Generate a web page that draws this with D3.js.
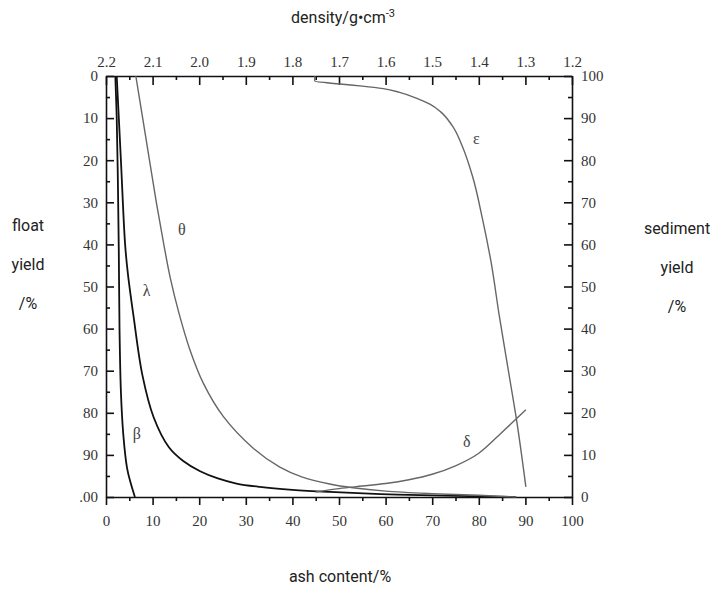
<!DOCTYPE html>
<html>
<head>
<meta charset="utf-8">
<script src="https://cdn.jsdelivr.net/npm/d3@7"></script>
<style>
  html, body { margin: 0; padding: 0; background: #fff; }
  svg { display: block; }
  .tick text { font-family: "Liberation Serif", "DejaVu Serif", serif; font-size: 15px; fill: #333; }
  .title { font-family: Roboto, "Noto Sans", sans-serif; font-size: 16px; fill: #222; }
  .curve-label { font-family: "Liberation Serif", "DejaVu Serif", serif; font-size: 16px; fill: #444; }
</style>
</head>
<body>
<svg id="chart" width="721" height="592"></svg>
<script>
// Ash content (x, %) vs float yield (y, %) for each washability curve
const betaCurve = [[2.0,0],[2.3,10],[2.55,25],[2.75,42],[2.9,60],[3.2,75],[3.7,85],[4.5,93],[5.3,96.7],[6.2,100]];
const lambdaCurve = [[2.3,0],[3.2,20],[4.1,40],[4.7,47],[5.9,57],[7.8,71],[10.2,81],[13.5,88.2],[16.5,91.4],[20.2,93.9],[24,95.6],[28,96.8],[33,97.6],[40,98.3],[48,98.8],[59,99.3],[70,99.6],[88,100]];
const thetaCurve = [[6.4,0],[8.6,15],[10.8,30],[12.4,40],[13.8,48],[15.7,56.5],[18,65],[20.9,73],[25.2,80.9],[31.6,88.4],[37.3,92.9],[42,95.2],[48,96.9],[53,97.8],[60,98.6],[70,99.2],[80,99.6],[88,100]];
const epsilonCurve = [[44.8,0],[44.8,1.2],[50.2,1.9],[55,2.4],[59.5,3.0],[63,3.9],[66.7,5.3],[69.5,6.7],[71.7,8.4],[74.3,11.8],[76.5,16.8],[78.7,24],[80.8,34],[82.6,44],[84.4,57],[86.5,71],[88.1,81.7],[90.1,97.6]];
const deltaCurve = [[45,98.8],[50,98.0],[55,97.4],[60,96.8],[65,95.9],[70,94.6],[75,92.6],[80,89.6],[85,84.6],[90.1,79.3]];

// Curve names and where each name sits (ash %, float yield %)
const curveNames = ["β", "λ", "θ", "ε", "δ"];
const labelSpots = [[6.6,85.3],[8.7,51.5],[16.3,37],[79.5,15.2],[77.4,87.2]];

// Tick values and labels
const ashTicks = [0,10,20,30,40,50,60,70,80,90,100];
const floatTicks = [0,10,20,30,40,50,60,70,80,90,100];
const floatTickLabels = ["0","10","20","30","40","50","60","70","80","90",".00"];
const sedimentTicks = [0,10,20,30,40,50,60,70,80,90,100];
const densityTicks = [2.2,2.1,2.0,1.9,1.8,1.7,1.6,1.5,1.4,1.3,1.2];

const svg = d3.select("#chart");
const plotLeft = 106, plotRight = 572, plotTop = 76, plotBottom = 497;

const x = d3.scaleLinear().domain([0,100]).range([plotLeft,plotRight]);
const y = d3.scaleLinear().domain([0,100]).range([plotTop,plotBottom]);
const ySed = d3.scaleLinear().domain([100,0]).range([plotTop,plotBottom]);
const xDen = d3.scaleLinear().domain([2.2,1.2]).range([plotLeft,plotRight]);

function styleAxis(g) {
  g.selectAll(".domain").attr("stroke","#111").attr("stroke-width",1.6);
  g.selectAll(".tick line").attr("stroke","#111").attr("stroke-width",1.6);
}

// Bottom axis: ash content, ticks outward
const gb = svg.append("g").attr("transform",`translate(0,${plotBottom})`)
  .call(d3.axisBottom(x).tickValues(ashTicks).tickSize(8).tickSizeOuter(0).tickPadding(10).tickFormat(d3.format("d")));
styleAxis(gb);
const gbm = svg.append("g").attr("transform",`translate(0,${plotBottom})`)
  .call(d3.axisBottom(x).tickValues(ashTicks.slice(0,-1).map(d=>d+5)).tickSize(4).tickFormat(""));
styleAxis(gbm); gbm.select(".domain").remove();

// Top axis: density, ticks inward
const gt = svg.append("g").attr("transform",`translate(0,${plotTop})`)
  .call(d3.axisTop(xDen).tickValues(densityTicks).tickSize(-9).tickSizeOuter(0).tickPadding(9).tickFormat(d3.format(".1f")));
styleAxis(gt);
const gtm = svg.append("g").attr("transform",`translate(0,${plotTop})`)
  .call(d3.axisTop(xDen).tickValues(densityTicks.slice(0,-1).map(d=>d-0.05)).tickSize(-4).tickFormat(""));
styleAxis(gtm); gtm.select(".domain").remove();

// Left axis: float yield, ticks inward
const gl = svg.append("g").attr("transform",`translate(${plotLeft},0)`)
  .call(d3.axisLeft(y).tickValues(floatTicks).tickSize(-8).tickSizeOuter(0).tickPadding(8)
    .tickFormat((d,i)=>floatTickLabels[i]));
styleAxis(gl);
const glm = svg.append("g").attr("transform",`translate(${plotLeft},0)`)
  .call(d3.axisLeft(y).tickValues(floatTicks.slice(0,-1).map(d=>d+5)).tickSize(-4).tickFormat(""));
styleAxis(glm); glm.select(".domain").remove();

// Right axis: sediment yield, ticks inward
const gr = svg.append("g").attr("transform",`translate(${plotRight},0)`)
  .call(d3.axisRight(ySed).tickValues(sedimentTicks).tickSize(-8).tickSizeOuter(0).tickPadding(9).tickFormat(d3.format("d")));
styleAxis(gr);
const grm = svg.append("g").attr("transform",`translate(${plotRight},0)`)
  .call(d3.axisRight(ySed).tickValues(sedimentTicks.slice(0,-1).map(d=>d+5)).tickSize(-4).tickFormat(""));
styleAxis(grm); grm.select(".domain").remove();

// Curves: Catmull-Rom for most, monotone in y for ε so its sharp start stays clean
const smooth = d3.line().x(d=>x(d[0])).y(d=>y(d[1])).curve(d3.curveCatmullRom.alpha(0.5));
const monoY = d3.line().x(d=>x(d[0])).y(d=>y(d[1])).curve(d3.curveMonotoneY);
const series = [
  {data: betaCurve, gen: smooth, color: "#111", w: 1.8},
  {data: lambdaCurve, gen: smooth, color: "#111", w: 1.8},
  {data: thetaCurve, gen: smooth, color: "#666", w: 1.4},
  {data: epsilonCurve, gen: monoY, color: "#666", w: 1.4},
  {data: deltaCurve, gen: smooth, color: "#666", w: 1.4}
];
svg.append("g").selectAll("path").data(series).join("path")
  .attr("d", s => s.gen(s.data))
  .attr("fill","none")
  .attr("stroke", s => s.color)
  .attr("stroke-width", s => s.w);

svg.append("g").selectAll("text").data(curveNames).join("text")
  .attr("class","curve-label")
  .attr("x",(d,i)=>x(labelSpots[i][0]))
  .attr("y",(d,i)=>y(labelSpots[i][1]))
  .attr("text-anchor","middle")
  .attr("dominant-baseline","middle")
  .text(d=>d);

// Axis titles
const t = svg.append("text").attr("class","title").attr("x",343).attr("y",23).attr("text-anchor","middle");
t.append("tspan").text("density/g•cm");
t.append("tspan").attr("dy",-6).attr("font-size",11).text("-3");

svg.append("text").attr("class","title").attr("x",340).attr("y",582).attr("text-anchor","middle").text("ash content/%");

const leftTitle = ["float","yield","/%"];
const rightTitle = ["sediment","yield","/%"];
svg.append("g").selectAll("text").data(leftTitle).join("text")
  .attr("class","title").attr("x",28).attr("y",(d,i)=>231+i*39).attr("text-anchor","middle").text(d=>d);
svg.append("g").selectAll("text").data(rightTitle).join("text")
  .attr("class","title").attr("x",677).attr("y",(d,i)=>234+i*39).attr("text-anchor","middle").text(d=>d);
</script>
</body>
</html>
